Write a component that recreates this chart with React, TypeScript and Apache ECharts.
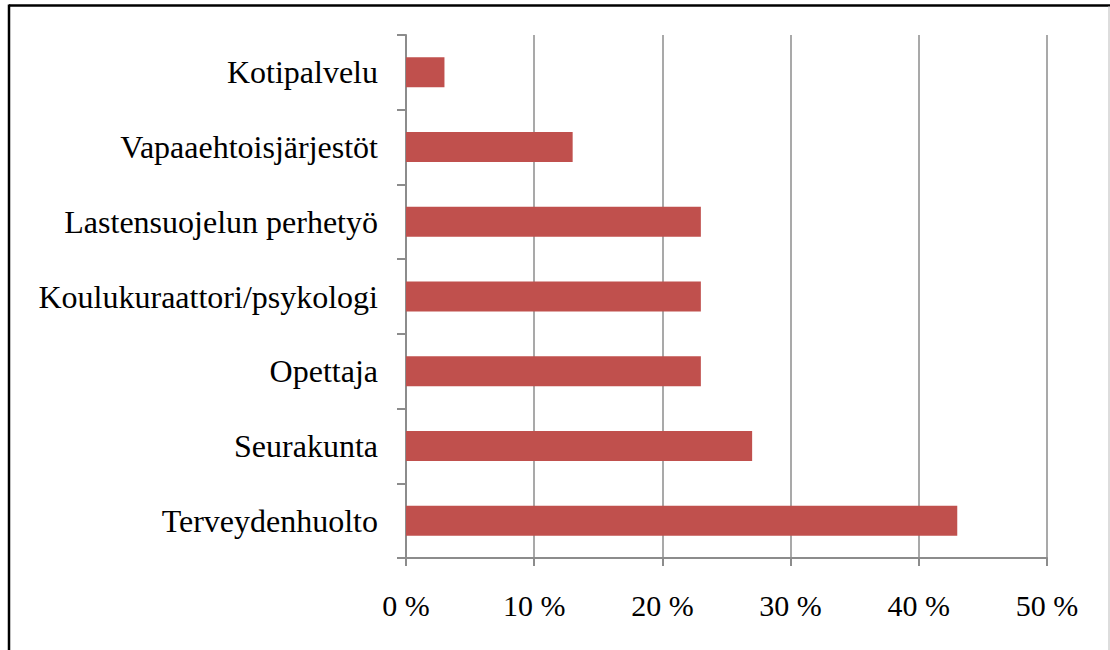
import React, { useEffect, useRef } from "react";
import * as echarts from "echarts";

const categories = [
  "Kotipalvelu",
  "Vapaaehtoisjärjestöt",
  "Lastensuojelun perhetyö",
  "Koulukuraattori/psykologi",
  "Opettaja",
  "Seurakunta",
  "Terveydenhuolto",
];
const values = [3, 13, 23, 23, 23, 27, 43];

export default function App() {
  const ref = useRef<HTMLDivElement>(null);
  useEffect(() => {
    if (!ref.current) return;
    const chart = echarts.init(ref.current, null, { renderer: "svg" });
    const gray = "#8c8c8c";
    chart.setOption({
      animation: false,
      backgroundColor: "#ffffff",
      textStyle: { fontFamily: "Liberation Serif" },
      grid: { left: 406, right: 63, top: 35, bottom: 92, containLabel: false },
      xAxis: {
        type: "value",
        min: 0,
        max: 50,
        interval: 10,
        axisLine: { show: true, lineStyle: { color: gray, width: 2 } },
        axisTick: { show: true, length: 8, lineStyle: { color: gray, width: 2 } },
        splitLine: { show: true, lineStyle: { color: gray, width: 1.5 } },
        axisLabel: {
          formatter: "{value} %",
          fontSize: 30,
          color: "#000",
          fontFamily: "Liberation Serif",
          margin: 32,
        },
      },
      yAxis: {
        type: "category",
        data: categories,
        inverse: true,
        axisLine: { show: true, lineStyle: { color: gray, width: 2 } },
        axisTick: { show: true, length: 9, lineStyle: { color: gray, width: 2 } },
        axisLabel: {
          fontSize: 32,
          color: "#000",
          fontFamily: "Liberation Serif",
          margin: 28,
        },
        splitLine: { show: false },
      },
      series: [
        {
          type: "bar",
          data: values,
          barWidth: 30,
          itemStyle: { color: "#C0504D" },
        },
      ],
      graphic: [
        { type: "line", shape: { x1: 9, y1: 5.5, x2: 1110, y2: 5.5 }, style: { stroke: "#000", lineWidth: 2.5 } },
        { type: "line", shape: { x1: 9, y1: 4.5, x2: 9, y2: 650 }, style: { stroke: "#000", lineWidth: 2.5 } },
        { type: "line", shape: { x1: 1109, y1: 6, x2: 1109, y2: 650 }, style: { stroke: "#bbbbbb", lineWidth: 1 } },
      ],
    });
    return () => chart.dispose();
  }, []);
  return (
    <div
      ref={ref}
      style={{ position: "absolute", left: 0, top: 0, width: 1110, height: 650 }}
    />
  );
}
